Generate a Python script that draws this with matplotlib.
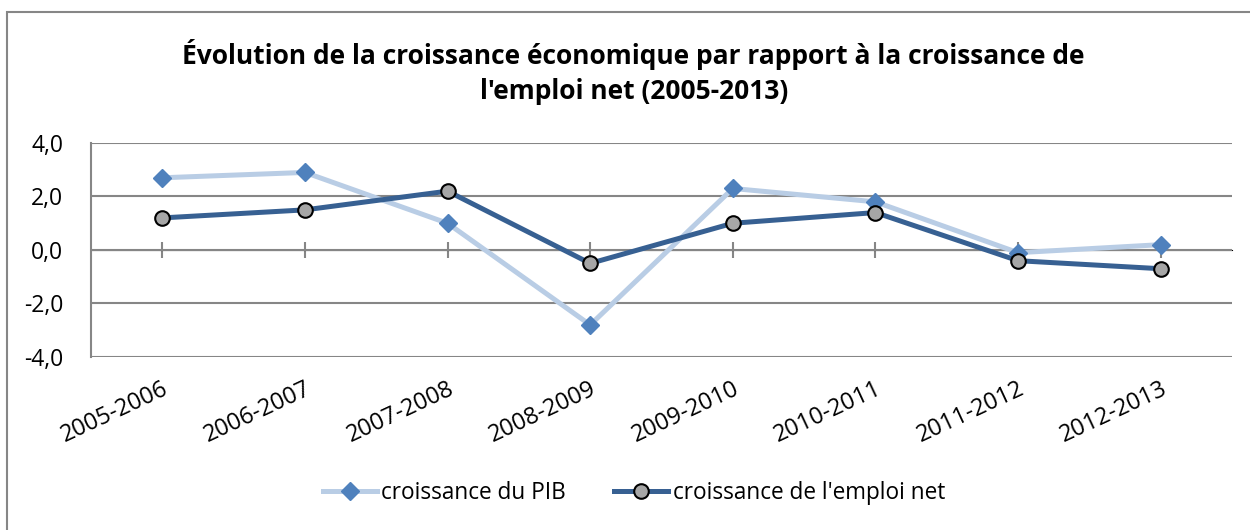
import matplotlib.pyplot as plt
from matplotlib.patches import Rectangle
from matplotlib.ticker import FuncFormatter

# Data
periodes = ['2005-2006', '2006-2007', '2007-2008', '2008-2009',
            '2009-2010', '2010-2011', '2011-2012', '2012-2013']
pib = [2.7, 2.9, 1.0, -2.8, 2.3, 1.8, -0.1, 0.2]
emploi = [1.2, 1.5, 2.2, -0.5, 1.0, 1.4, -0.4, -0.7]
y_ticks = [-4, -2, 0, 2, 4]

plt.rcParams['font.family'] = ['Open Sans', 'DejaVu Sans']

fig = plt.figure(figsize=(12.5, 5.3), dpi=100)
ax = fig.add_axes([91 / 1250, 1 - 357 / 530, 1141 / 1250, 214 / 530])

# outer chart border
fig.patches.append(Rectangle((7 / 1250, -0.1), 1.2, 0.1 + (530 - 12) / 530,
                             transform=fig.transFigure, fill=False,
                             edgecolor='#868686', linewidth=1.5))

x = list(range(len(periodes)))
ax.plot(x, pib, color='#B9CDE5', linewidth=3.6, marker='D', markersize=9,
        markerfacecolor='#4F81BD', markeredgecolor='#4F81BD',
        label='croissance du PIB', zorder=3)
ax.plot(x, emploi, color='#376092', linewidth=3.6, marker='o', markersize=10.5,
        markerfacecolor='#A6A6A6', markeredgecolor='black', markeredgewidth=1.5,
        label="croissance de l'emploi net", zorder=4)

ax.set_xlim(-0.5, len(periodes) - 0.5)
ax.set_ylim(-4, 4)
ax.set_yticks(y_ticks)
ax.yaxis.set_major_formatter(FuncFormatter(lambda v, p: f'{v:.1f}'.replace('.', ',')))
ax.grid(axis='y', color='#868686', linewidth=1.5)
ax.set_axisbelow(True)
for s in ['top', 'right', 'bottom']:
    ax.spines[s].set_visible(False)
ax.spines['left'].set_color('#868686')
ax.spines['left'].set_linewidth(1.5)
ax.tick_params(axis='y', length=0, labelsize=16.5, pad=20)

ax.set_xticks(x)
ax.set_xticklabels(periodes, rotation=25, ha='right', rotation_mode='anchor', fontsize=17)
ax.tick_params(axis='x', length=0, pad=14)

# category tick marks on the zero line
sec = ax.secondary_xaxis(0.5)
sec.set_xticks(x)
sec.set_xticklabels([])
sec.spines['bottom'].set_visible(False)
sec.tick_params(axis='x', direction='inout', length=12, width=1.5, color='#868686')

fig.text(0.507, 1 - 72 / 530, "Évolution de la croissance économique par rapport à la croissance de\nl'emploi net (2005-2013)",
         ha='center', va='center', fontsize=19, fontweight='bold', linespacing=1.35)

fig.legend(loc='center', bbox_to_anchor=(0.507, 1 - 493 / 530), ncol=2, frameon=False,
           fontsize=16.3, handlelength=2.4, columnspacing=2.1, handletextpad=0.2)

fig.savefig('out.png', dpi=100)
